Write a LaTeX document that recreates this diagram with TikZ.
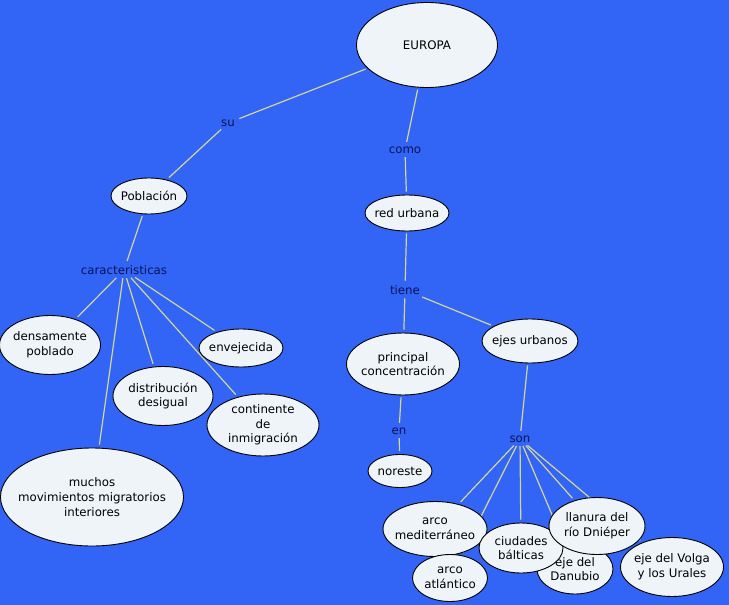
\documentclass[tikz,border=0pt]{standalone}
\usepackage{fontspec}
\setmainfont{DejaVu Sans}
\usetikzlibrary{shapes.geometric,backgrounds}
\definecolor{bgblue}{RGB}{50,100,245}
\definecolor{nodefill}{RGB}{238,244,248}
\definecolor{linecol}{RGB}{210,215,150}
\definecolor{lwcol}{RGB}{10,20,90}
\begin{document}
\begin{tikzpicture}[x=1pt,y=-1pt,
 concept/.style={ellipse,draw=black,fill=nodefill,line width=0.9pt,inner sep=-25pt,align=center,text=black,font=\fontsize{11.8}{14.6}\selectfont},
 lword/.style={text=lwcol,inner sep=1.5pt,font=\fontsize{11.8}{14}\selectfont},
 conn/.style={draw=linecol,line width=1.2pt,shorten >=3pt,shorten <=2pt}]
\useasboundingbox (0,0) rectangle (729,605);
% concepts
\node[concept,minimum width=141pt,minimum height=85pt] (europa) at (427,45) {EUROPA};
\node[lword] (su) at (228,123) {su};
\node[concept,minimum width=76pt,minimum height=36pt] (poblacion) at (149,196) {Población};
\node[lword] (caract) at (124,270) {caracteristicas};
\node[concept,minimum width=101pt,minimum height=59pt] (densamente) at (50,345) {densamente\\poblado};
\node[concept,minimum width=84pt,minimum height=38pt] (envejecida) at (241,348) {envejecida};
\node[concept,minimum width=100pt,minimum height=59pt] (distribucion) at (163,396) {distribución\\desigual};
\node[concept,minimum width=112pt,minimum height=62pt] (continente) at (263,425) {continente\\de\\inmigración};
\node[concept,minimum width=183pt,minimum height=98pt] (muchos) at (92,497) {muchos\\movimientos migratorios\\interiores};
\node[lword] (como) at (405,150) {como};
\node[concept,minimum width=84pt,minimum height=36pt] (red) at (407,213) {red urbana};
\node[lword] (tiene) at (405,290) {tiene};
\node[concept,minimum width=113pt,minimum height=62pt] (principal) at (403,364) {principal\\concentración};
\node[concept,minimum width=96pt,minimum height=44pt] (ejes) at (530,341) {ejes urbanos};
\node[lword] (en) at (399,431) {en};
\node[concept,minimum width=64pt,minimum height=33pt] (noreste) at (400,471) {noreste};
\node[lword] (son) at (520,439) {son};
\node[concept,minimum width=76pt,minimum height=50pt] (danubio) at (575,569) {eje del\\Danubio};
\node[concept,minimum width=104pt,minimum height=55pt] (mediterraneo) at (435,529) {arco\\mediterráneo};
\node[concept,minimum width=75pt,minimum height=47pt] (atlantico) at (450,578) {arco\\atlántico};
\node[concept,minimum width=84pt,minimum height=50pt] (balticas) at (521,548) {ciudades\\bálticas};
\node[concept,minimum width=96pt,minimum height=57pt] (llanura) at (597,526) {llanura del\\río Dniéper};
\node[concept,minimum width=103pt,minimum height=59pt] (volga) at (672,567) {eje del Volga\\y los Urales};
\begin{pgfonlayer}{background}
\fill[bgblue] (0,0) rectangle (729,605);
\draw[conn] (europa) -- (su);
\draw[conn] (su) -- (poblacion);
\draw[conn] (poblacion) -- (caract);
\draw[conn] (caract) -- (densamente);
\draw[conn] (caract) -- (envejecida);
\draw[conn] (caract) -- (distribucion);
\draw[conn] (caract) -- (continente);
\draw[conn] (caract) -- (muchos);
\draw[conn] (europa) -- (como);
\draw[conn] (como) -- (red);
\draw[conn] (red) -- (tiene);
\draw[conn] (tiene) -- (principal);
\draw[conn] (tiene) -- (ejes);
\draw[conn] (principal) -- (en);
\draw[conn] (en) -- (noreste);
\draw[conn] (ejes) -- (son);
\draw[conn] (son) -- (mediterraneo);
\draw[conn] (son) -- (atlantico);
\draw[conn] (son) -- (balticas);
\draw[conn] (son) -- (danubio);
\draw[conn] (son) -- (llanura);
\draw[conn] (son) -- (volga);
\end{pgfonlayer}
\end{tikzpicture}
\end{document}
